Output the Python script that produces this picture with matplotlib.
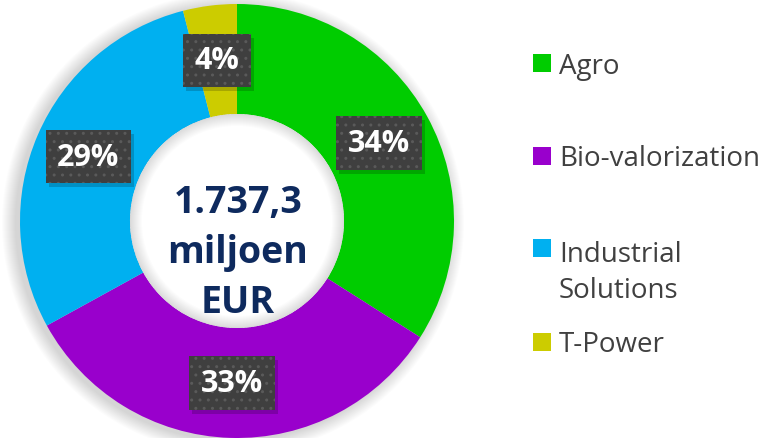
import matplotlib.pyplot as plt
from matplotlib.patches import Circle, Wedge, Rectangle

# data
categories = ["Agro", "Bio-valorization", "Industrial\nSolutions", "T-Power"]
shares = [34, 33, 29, 4]
colors = ["#00CC00", "#9900CC", "#00B0F0", "#CCCC00"]
center_text = "1.737,3\nmiljoen\nEUR"

W, H = 779, 439
plt.rcParams['font.family'] = ['Open Sans', 'DejaVu Sans']

fig = plt.figure(figsize=(W / 100, H / 100), dpi=100)
ax = fig.add_axes([0, 0, 1, 1])

cx, cy = 237, H - 222
R, ring = 217, 110
r_in = R - ring

# soft shadow around the ring
for i in range(14):
    ax.add_patch(Circle((cx - 4, cy - 2), R + 14 - i, color="black", alpha=0.012, lw=0, zorder=1))

wedges, texts, autotexts = ax.pie(
    shares, colors=colors, startangle=90, counterclock=False,
    radius=R, center=(cx, cy), wedgeprops=dict(width=ring, lw=0),
    autopct=lambda p: f"{p:.0f}%", pctdistance=(R - ring / 2) / R,
    textprops=dict(color="white", fontsize=22, fontweight="bold"),
)
for w in wedges:
    w.set_zorder(2)

# white hole with a faint inner shadow
ax.add_patch(Circle((cx, cy), r_in, color="white", lw=0, zorder=2.5))
for i in range(12):
    ax.add_patch(Wedge((cx, cy), r_in, 0, 360, width=12 - i, color="black", alpha=0.01, lw=0, zorder=3))

for t in autotexts:
    t.set_zorder(6)
    t.set_bbox(dict(boxstyle="square,pad=0.38", fc="#3F3F3F", ec="#5A5A5A", lw=0, hatch=".."))

ax.text(cx + 1, cy - 31, center_text, ha="center", va="center", fontsize=27, fontweight="bold",
        color="#0E2A5E", linespacing=1.4, zorder=7)

# legend
box_bottom = [73, 166, 258, 352]
text_base = [74, 166, 298, 352]
for lab, col, yb, tb in zip(categories, colors, box_bottom, text_base):
    ax.add_patch(Rectangle((533, H - yb), 18, 18, fc=col, ec="none", zorder=5))
    ax.text(559, H - tb, lab, ha="left", va="baseline", fontsize=20, color="#404040",
            linespacing=1.4, zorder=5)

ax.set_xlim(0, W)
ax.set_ylim(0, H)
ax.set_aspect("equal")
ax.axis("off")

# drop shadows behind the label boxes
fig.canvas.draw()
inv = ax.transData.inverted()
for t in autotexts:
    bb = t.get_bbox_patch().get_window_extent()
    (x0, y0), (x1, y1) = inv.transform([(bb.x0, bb.y0), (bb.x1, bb.y1)])
    ax.add_patch(Rectangle((x0 + 3, y0 - 4), x1 - x0, y1 - y0, fc="black", alpha=0.18, lw=0, zorder=5))

fig.savefig("out.png", dpi=100)
